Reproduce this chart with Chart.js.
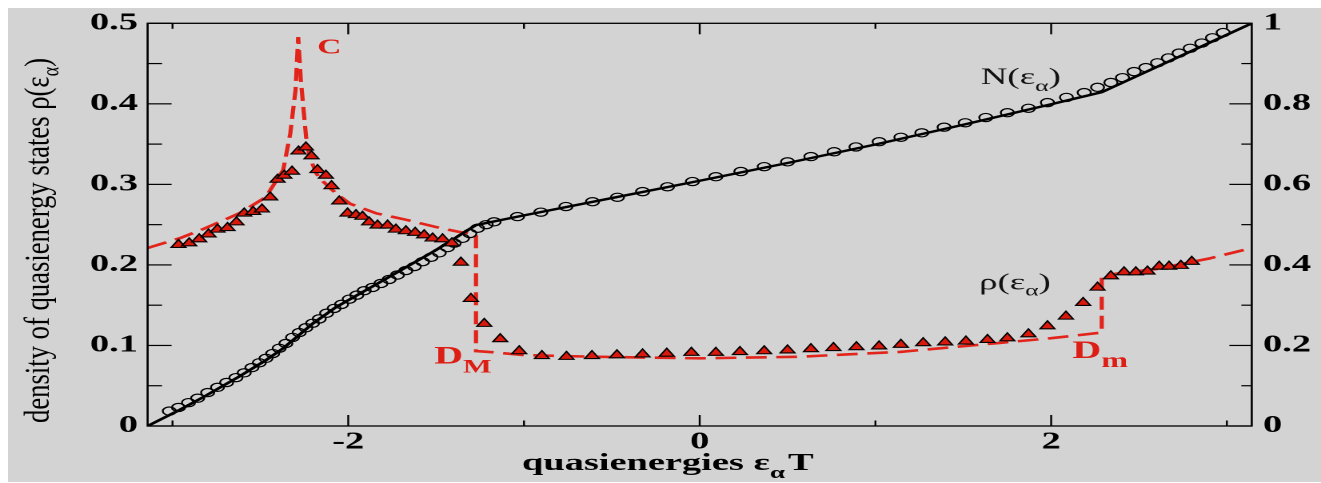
<!DOCTYPE html>
<html><head><meta charset="utf-8">
<script src="https://cdn.jsdelivr.net/npm/chart.js@4.4.1/dist/chart.umd.min.js"></script>
<style>
html,body{margin:0;padding:0;background:#fff;overflow:hidden;width:1321px;height:483px;}
#wrap{position:absolute;left:0;top:0;width:826px;height:483px;transform-origin:0 0;transform:scaleX(1.59927);}
canvas{display:block;}
</style></head><body>
<div id="wrap"><canvas id="c" width="826" height="483"></canvas></div>
<script>
// ---- data ----
// analytic density of states rho (dashed red, left axis)
const DOS_X = [-3.1416,-2.96,-2.82,-2.62,-2.47,-2.37,-2.33,-2.30,-2.285,-2.27,-2.24,-2.22,-2.18,-2.15,-2.07,-1.99,-1.84,-1.67,-1.50,-1.37,-1.273,-1.273,-1.2,-1.0,-0.6,0,0.57,0.85,1.14,1.7,2.0,2.288,2.288,2.6,2.9,3.1416];
const DOS_Y = [0.221,0.233,0.245,0.264,0.284,0.318,0.363,0.417,0.483,0.430,0.359,0.334,0.313,0.305,0.289,0.276,0.264,0.256,0.247,0.241,0.238,0.093,0.092,0.088,0.086,0.084,0.086,0.089,0.092,0.103,0.109,0.116,0.187,0.195,0.208,0.221];
// numerical density of states (triangles, left axis)
const TRI_X = [-2.966,-2.905,-2.848,-2.795,-2.744,-2.687,-2.636,-2.592,-2.541,-2.491,-2.444,-2.402,-2.364,-2.32,-2.283,-2.241,-2.209,-2.175,-2.127,-2.095,-2.051,-2.004,-1.956,-1.919,-1.881,-1.833,-1.776,-1.729,-1.672,-1.619,-1.568,-1.52,-1.463,-1.41,-1.359,-1.302,-1.226,-1.135,-1.027,-0.898,-0.758,-0.613,-0.471,-0.325,-0.187,-0.047,0.092,0.229,0.367,0.50,0.633,0.761,0.892,1.021,1.145,1.272,1.397,1.515,1.638,1.751,1.871,1.979,2.084,2.182,2.264,2.34,2.415,2.482,2.548,2.615,2.671,2.738,2.80];
const TRI_Y = [0.225,0.227,0.232,0.238,0.244,0.246,0.253,0.264,0.266,0.269,0.284,0.306,0.311,0.316,0.341,0.346,0.335,0.318,0.311,0.298,0.279,0.264,0.262,0.260,0.253,0.249,0.249,0.244,0.242,0.240,0.237,0.233,0.232,0.227,0.203,0.158,0.127,0.108,0.093,0.087,0.086,0.087,0.088,0.089,0.090,0.091,0.091,0.092,0.093,0.094,0.0955,0.097,0.098,0.099,0.101,0.103,0.104,0.105,0.107,0.109,0.114,0.124,0.136,0.153,0.172,0.186,0.191,0.191,0.192,0.198,0.198,0.199,0.204];
// integrated density N (solid black, right axis)
const NLINE_X = [-3.1416,-2.96,-2.82,-2.62,-2.47,-2.37,-2.285,-2.2,-2.07,-1.84,-1.5,-1.273,-1.0,-0.5,0,0.5,1.0,1.5,2.0,2.288,3.1416];
const NLINE_Y = [0,0.040,0.073,0.123,0.163,0.193,0.224,0.255,0.295,0.352,0.437,0.499,0.523,0.566,0.609,0.653,0.699,0.748,0.799,0.829,1.0];
// numerical N (open circles, right axis)
const CIRC_X = [-3.018,-2.966,-2.909,-2.857,-2.80,-2.744,-2.692,-2.639,-2.592,-2.548,-2.506,-2.468,-2.43,-2.393,-2.355,-2.317,-2.279,-2.241,-2.203,-2.165,-2.123,-2.08,-2.038,-1.994,-1.951,-1.909,-1.862,-1.814,-1.767,-1.72,-1.672,-1.624,-1.577,-1.529,-1.482,-1.435,-1.397,-1.35,-1.308,-1.264,-1.215,-1.17,-1.037,-0.904,-0.761,-0.61,-0.468,-0.325,-0.183,-0.041,0.092,0.234,0.367,0.50,0.633,0.765,0.889,1.021,1.145,1.264,1.391,1.511,1.628,1.751,1.871,1.979,2.087,2.188,2.264,2.34,2.406,2.472,2.539,2.605,2.667,2.728,2.791,2.857,2.918,2.979];
const CIRC_Y = [0.037,0.046,0.058,0.069,0.083,0.096,0.108,0.12,0.132,0.145,0.157,0.168,0.18,0.193,0.205,0.22,0.232,0.244,0.255,0.266,0.28,0.292,0.302,0.315,0.325,0.336,0.344,0.354,0.364,0.375,0.386,0.396,0.408,0.419,0.43,0.443,0.454,0.466,0.478,0.491,0.500,0.507,0.520,0.531,0.545,0.557,0.568,0.582,0.594,0.607,0.619,0.632,0.644,0.656,0.669,0.681,0.693,0.706,0.717,0.728,0.742,0.753,0.766,0.778,0.789,0.803,0.816,0.828,0.841,0.853,0.865,0.88,0.89,0.902,0.914,0.926,0.938,0.951,0.964,0.977];
// tick values
const X_LABELS = [-2, 0, 2];
const X_MINOR = [-3, -1, 1, 3];
const Y_LABELS = [0, 0.1, 0.2, 0.3, 0.4, 0.5];
const Y_MINOR = [0.05, 0.15, 0.25, 0.35, 0.45];
const Y2_LABELS = [0, 0.2, 0.4, 0.6, 0.8, 1];
const Y2_MINOR = [0.1, 0.3, 0.5, 0.7, 0.9];

// ---- styling / layout ----
const SX = 1321 / 826;
const SERIF = '"Liberation Serif","Times New Roman",serif';
const RED = '#e2241b';
const RED_TXT = '#dc1e14';
const GRAY = '#d3d3d3';

const NOTES = [
  {x:-2.176, y:0.4624, axis:'y', color:RED_TXT, parts:[{t:'C', f:`bold 21px ${SERIF}`}]},
  {x:-1.511, y:0.0778, axis:'y', color:RED_TXT, parts:[{t:'D', f:`bold 25px ${SERIF}`},{t:'M', f:`bold 19px ${SERIF}`, dy:9}]},
  {x:2.121, y:0.0847, axis:'y', color:RED_TXT, parts:[{t:'D', f:`bold 25px ${SERIF}`},{t:'m', f:`bold 20px ${SERIF}`, dy:9}]},
  {x:1.600, y:0.849, axis:'y2', color:'#111', parts:[{t:'N(\u03b5', f:`23px ${SERIF}`},{t:'\u03b1', f:`16px ${SERIF}`, dy:7},{t:')', f:`23px ${SERIF}`}]},
  {x:1.590, y:0.1694, axis:'y', color:'#111', parts:[{t:'\u03c1(\u03b5', f:`23px ${SERIF}`},{t:'\u03b1', f:`16px ${SERIF}`, dy:6},{t:')', f:`23px ${SERIF}`}]}
];

function partsWidth(ctx, parts){ let w=0; for(const p of parts){ ctx.font=p.f; w+=ctx.measureText(p.t).width+(p.sp||0);} return w; }
function drawParts(ctx, x, y, parts, color){
  let cx=x; ctx.fillStyle=color;
  for(const p of parts){ ctx.font=p.f; ctx.fillText(p.t, cx, y+(p.dy||0)); cx+=ctx.measureText(p.t).width+(p.sp||0); }
}
function line(ctx,x1,y1,x2,y2){ ctx.beginPath(); ctx.moveTo(x1,y1); ctx.lineTo(x2,y2); ctx.stroke(); }

const deco = {
  id:'deco',
  beforeDraw(chart){
    const c=chart.ctx; c.save();
    c.fillStyle='#fff'; c.fillRect(0,0,chart.width,chart.height);
    c.fillStyle=GRAY; c.fillRect(8/SX,8,chart.width,474);
    c.restore();
  },
  afterDraw(chart){
    const c=chart.ctx, a=chart.chartArea, sx=chart.scales.x, sy=chart.scales.y, sy2=chart.scales.y2;
    c.save();
    c.strokeStyle='#000'; c.lineWidth=1.3;
    c.strokeRect(a.left,a.top,a.right-a.left,a.bottom-a.top);
    c.lineWidth=1.2;
    for(const v of X_LABELS){ const p=sx.getPixelForValue(v); line(c,p,a.bottom,p,a.bottom-11); line(c,p,a.top,p,a.top+11); }
    for(const v of X_MINOR){ const p=sx.getPixelForValue(v); line(c,p,a.bottom,p,a.bottom-5.5); line(c,p,a.top,p,a.top+5.5); }
    for(const v of Y_LABELS){ const p=sy.getPixelForValue(v); line(c,a.left,p,a.left+15,p); }
    for(const v of Y_MINOR){ const p=sy.getPixelForValue(v); line(c,a.left,p,a.left+9,p); }
    for(const v of Y2_LABELS){ const p=sy2.getPixelForValue(v); line(c,a.right,p,a.right-14,p); }
    for(const v of Y2_MINOR){ const p=sy2.getPixelForValue(v); line(c,a.right,p,a.right-6.5,p); }
    c.textBaseline='alphabetic'; c.textAlign='left';
    for(const n of NOTES){
      const px=sx.getPixelForValue(n.x), py=chart.scales[n.axis].getPixelForValue(n.y);
      drawParts(c,px,py,n.parts,n.color);
    }
    // x axis title
    drawParts(c, 522/SX, 470, [
      {t:'quasienergies \u03b5', f:`bold 24px ${SERIF}`},
      {t:'\u03b1', f:`bold 17px ${SERIF}`, dy:8, sp:2},
      {t:'T', f:`bold 24px ${SERIF}`}], '#000');
    // y axis title (rotated)
    const yp=[{t:'density of quasienergy states \u03c1(\u03b5', f:`22px ${SERIF}`},{t:'\u03b1', f:`15px ${SERIF}`, dy:6},{t:')', f:`22px ${SERIF}`}];
    c.translate(49/SX, 240.5); c.rotate(-Math.PI/2);
    const w=partsWidth(c,yp); c.scale(365/w,1);
    drawParts(c,-w/2,0,yp,'#000');
    c.restore();
  }
};

const pts=(xs,ys)=>xs.map((x,i)=>({x:x,y:ys[i]}));
const tickFont={family:SERIF,size:24,weight:'bold'};

new Chart(document.getElementById('c'),{
  type:'scatter',
  data:{datasets:[
    {label:'rho numeric',data:pts(TRI_X,TRI_Y),yAxisID:'y',showLine:false,pointStyle:'triangle',pointRadius:5.3,pointBackgroundColor:'#d8190c',pointBorderColor:'#000',pointBorderWidth:1.1,order:1},
    {label:'N numeric',data:pts(CIRC_X,CIRC_Y),yAxisID:'y2',showLine:false,pointStyle:'circle',pointRadius:4.1,pointBackgroundColor:'rgba(0,0,0,0)',pointBorderColor:'#000',pointBorderWidth:1.2,order:2},
    {label:'N',data:pts(NLINE_X,NLINE_Y),yAxisID:'y2',showLine:true,borderColor:'#000',borderWidth:2.4,pointRadius:0,tension:0,order:3},
    {label:'rho',data:pts(DOS_X,DOS_Y),yAxisID:'y',showLine:true,borderColor:RED,borderWidth:2.6,borderDash:[13,6],pointRadius:0,tension:0,order:4}
  ]},
  options:{
    responsive:false, animation:false, devicePixelRatio:2,
    layout:{padding:{top:23.3,left:0,right:0,bottom:0}},
    plugins:{legend:{display:false},tooltip:{enabled:false}},
    scales:{
      x:{type:'linear',position:'bottom',min:-Math.PI,max:Math.PI,
        grid:{display:false,drawTicks:false},border:{display:false},
        afterBuildTicks:s=>{s.ticks=X_LABELS.map(v=>({value:v}));},
        ticks:{font:tickFont,color:'#000',padding:2,maxRotation:0,autoSkip:false,callback:v=>String(v)},
        afterFit:s=>{s.height=57;}},
      y:{type:'linear',position:'left',min:0,max:0.5,
        grid:{display:false,drawTicks:false},border:{display:false},
        afterBuildTicks:s=>{s.ticks=Y_LABELS.map(v=>({value:v}));},
        ticks:{font:tickFont,color:'#000',padding:6,autoSkip:false,callback:v=>String(v)},
        afterFit:s=>{s.width=92.3;}},
      y2:{type:'linear',position:'right',min:0,max:1,
        grid:{display:false,drawTicks:false},border:{display:false},
        afterBuildTicks:s=>{s.ticks=Y2_LABELS.map(v=>({value:v}));},
        ticks:{font:tickFont,color:'#000',padding:7,autoSkip:false,callback:v=>String(v)},
        afterFit:s=>{s.width=43.3;}}
    }
  },
  plugins:[deco]
});
</script>
</body></html>
